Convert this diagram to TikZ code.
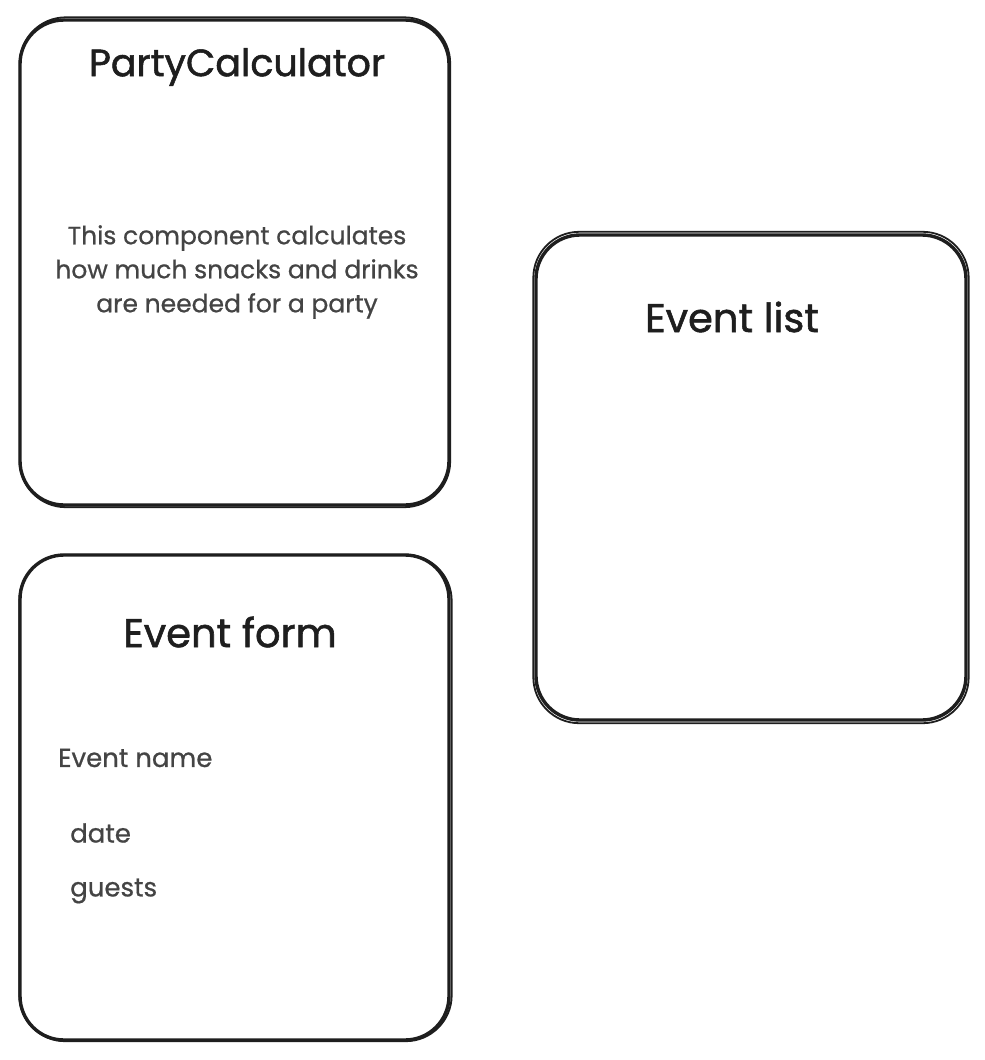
\documentclass[tikz,border=0pt]{standalone}
\usepackage{fontspec}
\setmainfont{Poppins}
\newfontfamily\titlefont{Poppins}[FakeBold=1.4]
\newfontfamily\bodyfont{Poppins}[FakeBold=0.7]
\definecolor{ink}{HTML}{1E1E1E}
\definecolor{txt}{HTML}{444444}
\tikzset{
  card/.style={draw=ink, line width=3.4pt, rounded corners=44pt, inner sep=0pt},
  sketch/.style={draw=ink, line width=1.8pt, rounded corners=46pt},
  title/.style={text=ink, font=\titlefont\fontsize{38}{44}\selectfont, inner sep=0pt},
  body/.style={text=txt, font=\bodyfont\fontsize{25}{34}\selectfont, inner sep=0pt, align=center},
  field/.style={text=txt, font=\bodyfont\fontsize{26}{30}\selectfont, inner sep=0pt, anchor=west}
}
\begin{document}
\begin{tikzpicture}[x=1pt, y=-1pt]
\useasboundingbox (0,0) rectangle (985,1060);
\fill[white] (0,0) rectangle (985,1060);
% boxes
\node[card, minimum width=429pt, minimum height=485pt] (calc) at (234.5,262.5) {};
\node[card, minimum width=430pt, minimum height=485pt] (list) at (751,477.5) {};
\node[card, minimum width=429pt, minimum height=485pt] (form) at (234.5,797.5) {};
% sketchy second strokes
\draw[sketch] ([shift={(1.5pt,1pt)}]calc.north west) rectangle ([shift={(-0.5pt,-0.5pt)}]calc.south east);
\draw[sketch] ([shift={(-1pt,1.5pt)}]list.north west) rectangle ([shift={(1pt,-1.5pt)}]list.south east);
\draw[sketch] ([shift={(1pt,-1.5pt)}]form.north west) rectangle ([shift={(1pt,0.5pt)}]form.south east);
% texts
\node[title] (calct) at (237,67) {PartyCalculator};
\node[body] (calcd) at (237,272) {This component calculates\\how much snacks and drinks\\are needed for a party};
\node[title, font=\titlefont\fontsize{40}{44}\selectfont] (listt) at (732,317) {Event list};
\node[title, font=\titlefont\fontsize{40}{44}\selectfont] (formt) at (230,632) {Event form};
\node[field] (fname) at (58,758) {Event name};
\node[field] (fdate) at (70,833) {date};
\node[field] (fguests) at (70,891) {guests};
\end{tikzpicture}
\end{document}
